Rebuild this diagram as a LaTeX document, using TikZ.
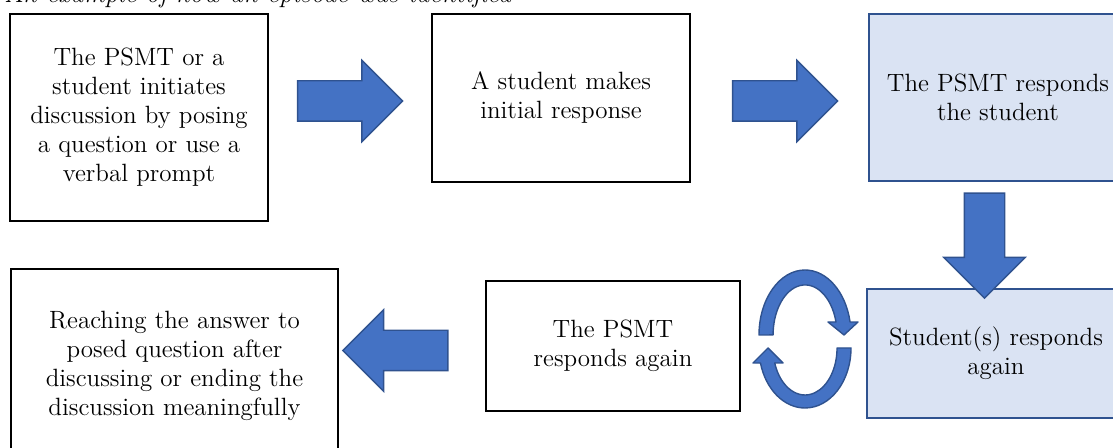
\documentclass[tikz,border=0pt]{standalone}
\usepackage{tikz}
\usetikzlibrary{shapes.arrows}
\definecolor{cBlue}{HTML}{4472C4}
\definecolor{cEdge}{HTML}{2F528F}
\definecolor{cPale}{HTML}{DAE3F3}

\begin{document}
\begin{tikzpicture}[x=0.5pt, y=0.5pt, font=\fontsize{12.5}{14.5}\selectfont,
  box/.style={draw=black, line width=1pt, fill=#1, align=center, inner sep=2pt},
  box/.default=white,
  pale/.style={box=cPale, draw=cEdge, line width=1.2pt},
  blk/.style={single arrow, draw=cEdge, fill=cBlue, line width=0.7pt, minimum height=52.5pt,
    minimum width=0pt, inner xsep=0pt, inner ysep=9.75pt, single arrow head extend=10.25pt},
  loop/.style={draw=cEdge, fill=cBlue, line width=0.7pt, line join=round}]
  \useasboundingbox (0,0) rectangle (1113,448);
  \clip (0,0) rectangle (1113,448);
  \node[anchor=base west, inner sep=0pt, font=\fontsize{13.3}{15}\selectfont\itshape] (title) at (4,445)
    {An example of how an episode was identified};
  % top row
  \node[box, minimum width=129pt, minimum height=103.5pt] (start) at (139,330.5)
    {The PSMT or a\\student initiates\\discussion by posing\\a question or use a\\verbal prompt};
  \node[box, minimum width=129pt, minimum height=84pt] (resp) at (561,350)
    {A student makes\\initial response};
  \node[pale, minimum width=129pt, minimum height=83.5pt] (psmt) at (998,350.5)
    {The PSMT responds\\the student};
  % bottom row
  \node[pale, minimum width=129pt, minimum height=64.5pt] (again) at (996,94.5)
    {Student(s) responds\\again};
  \node[box, minimum width=127pt, minimum height=65pt] (psmtagain) at (613,102)
    {The PSMT\\responds again};
  \node[box, minimum width=163.5pt, minimum height=97pt] (finish) at (174.5,82)
    {Reaching the answer to\\posed question after\\discussing or ending the\\discussion meaningfully};
  % block arrows
  \node[blk] (ab) at (340,347) {};
  \node[blk] (bc) at (775,347) {};
  \node[blk, rotate=-90] (cd) at (984.5,212.5) {};
  \node[blk, rotate=180] (ef) at (405.5,97.5) {};
  % back and forth
  \draw[loop] (759,113) arc[start angle=180, end angle=11.5, x radius=23pt, y radius=32.5pt]
    -- (858,126) -- (844,113) -- (828,126) -- (836,126)
    arc[start angle=15, end angle=180, x radius=16pt, y radius=25pt] -- cycle;
  \draw[loop] (837,100) -- (851,100) arc[start angle=0, end angle=-165.5, x radius=23pt, y radius=30pt]
    -- (753,85) -- (768,100) -- (783,85) -- (774.7,85)
    arc[start angle=-161.4, end angle=0, x radius=16pt, y radius=23.5pt] -- cycle;
\end{tikzpicture}
\end{document}
